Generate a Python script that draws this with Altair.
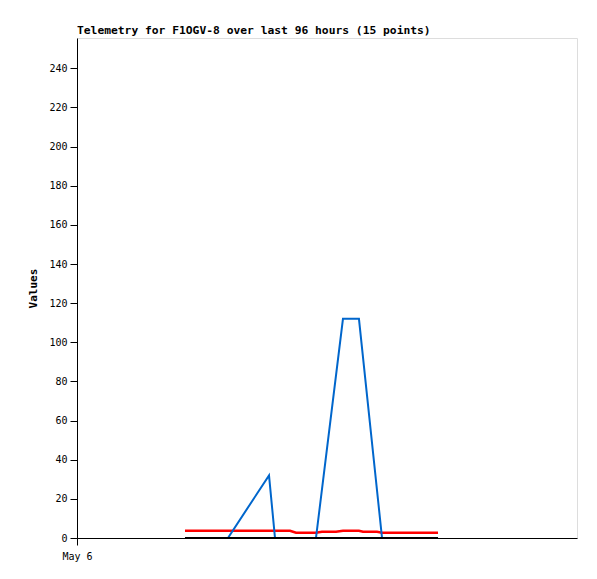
import altair as alt
import pandas as pd

# Timestamps (UTC) of the 15 telemetry points
times = [
    "2024-05-06T20:44:00Z", "2024-05-07T04:59:00Z", "2024-05-07T12:52:00Z",
    "2024-05-07T14:01:00Z", "2024-05-07T16:54:00Z", "2024-05-07T18:03:00Z",
    "2024-05-07T21:53:00Z", "2024-05-07T23:02:00Z", "2024-05-08T01:44:00Z",
    "2024-05-08T03:04:00Z", "2024-05-08T06:08:00Z", "2024-05-08T06:55:00Z",
    "2024-05-08T09:36:00Z", "2024-05-08T10:34:00Z", "2024-05-08T21:19:00Z",
]
blue_vals = [0, 0, 32, 0, 0, 0, 0, None, None, 112, 112, None, None, 0, 0]
red_vals = [3.7, 3.7, 3.7, 3.7, 3.7, 2.7, 2.7, 3.2, 3.2, 3.7, 3.7, 3.2, 3.2, 2.7, 2.7]
black_vals = [0] * 15

y_ticks = list(range(0, 241, 20))
title_text = "Telemetry for F1OGV-8 over last 96 hours (15 points)"
x_label_day = alt.DateTime(year=2024, month=5, date=6, utc=True)
x_end = alt.DateTime(year=2024, month=5, date=10, utc=True)

MONO = "DejaVu Sans Mono"

x_enc = alt.X(
    "t:T",
    scale=alt.Scale(type="utc", domain=[x_label_day, x_end]),
    axis=alt.Axis(
        values=[x_label_day],
        labelExpr="utcFormat(datum.value, '%b %-d')",
        title=None,
        tickSize=7,
        labelPadding=6,
        labelFlush=False,
        labelAlign="center",
        labelFont=MONO,
        labelFontSize=10,
        labelColor="black",
        domainColor="black",
        tickColor="black",
        grid=False,
    ),
)
y_enc = alt.Y(
    "v:Q",
    scale=alt.Scale(domain=[0, 255.5], nice=False, zero=True),
    axis=alt.Axis(
        values=y_ticks,
        title="Values",
        titleFont=MONO,
        titleFontSize=11,
        titleFontWeight="bold",
        titleColor="black",
        titlePadding=10,
        tickSize=7,
        labelPadding=3,
        labelFont=MONO,
        labelFontSize=10,
        labelColor="black",
        domainColor="black",
        tickColor="black",
        grid=False,
    ),
)


def layer(vals, color, width):
    df = pd.DataFrame({"t": times, "v": vals})
    return (
        alt.Chart(df)
        .transform_filter("isValid(datum.v)")
        .mark_line(color=color, strokeWidth=width, interpolate="linear")
        .encode(x=x_enc, y=y_enc)
    )


chart = (
    alt.layer(
        layer(red_vals, "#ff0000", 2.5),
        layer(blue_vals, "#0066cc", 2),
        layer(black_vals, "#000000", 2),
    )
    .properties(
        width=500,
        height=500,
        autosize=alt.AutoSizeParams(type="none"),
        padding={"left": 69, "top": 30, "right": 12, "bottom": 33},
        title=alt.TitleParams(
            title_text,
            anchor="start",
            frame="group",
            font=MONO,
            fontSize=11.3,
            fontWeight="bold",
            color="black",
            offset=2,
        ),
    )
    .configure_view(stroke="black", strokeWidth=1)
    .configure(background="white")
)

chart.save("out.html", embed_options={"renderer": "svg", "actions": False})
